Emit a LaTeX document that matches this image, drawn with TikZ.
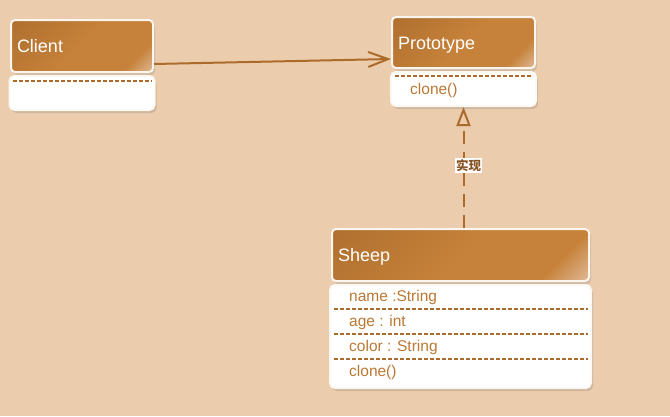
\documentclass[tikz,border=0pt]{standalone}
\usepackage{fontspec}
\setmainfont{Liberation Sans}
\newfontfamily\cjk{Noto Sans CJK SC}
\usepackage{tikz}
\usetikzlibrary{arrows.meta,positioning,shadows}
\definecolor{paper}{HTML}{EBCDAE}
\definecolor{hdrdark}{HTML}{A6672A}
\definecolor{hdrmid}{HTML}{C6823A}
\definecolor{hdrlight}{HTML}{E6C6AC}
\definecolor{ink}{HTML}{BB7834}
\definecolor{wire}{HTML}{AD6B2B}
\pgfdeclarehorizontalshading{header}{100bp}{color(0bp)=(hdrdark); color(50bp)=(hdrmid); color(74bp)=(hdrmid); color(88bp)=(hdrlight); color(100bp)=(hdrlight)}

\begin{document}
\begin{tikzpicture}
	[x=1pt, y=-1pt, inner sep=0pt,
	classname/.style	= {rectangle, rounded corners=4pt, shading=header, shading angle=-45, draw=white!80!paper, line width=2pt, text=white, font=\fontsize{18}{20}\selectfont, align=left, inner xsep=6pt, text height=13pt, text depth=0pt, minimum height=52pt, anchor=north west, drop shadow={shadow xshift=2pt, shadow yshift=-3pt, opacity=0.15, fill=black!70}},
	compart/.style	= {rectangle, rounded corners=5pt, fill=white, draw=white!85!paper, line width=2pt, drop shadow={shadow xshift=2pt, shadow yshift=-3pt, opacity=0.18, fill=black!70}},
	member/.style	= {anchor=base west, text=ink, font=\fontsize{15.5}{18}\selectfont},
	sep/.style	= {wire, line width=1.4pt, dash pattern=on 4pt off 2pt},
	assoc/.style	= {-{Straight Barb[length=20pt, width=15pt]}, wire, line width=2pt},
	realize/.style	= {-{Triangle[open, length=19pt, width=14pt, line width=2pt]}, wire, line width=2pt, dash pattern=on 13pt off 8pt},
	tag/.style	= {fill=white, inner sep=1pt, text=hdrdark!80!black, font=\cjk\bfseries\fontsize{12.5}{14}\selectfont}]

	\fill[paper] (0,0) rectangle (670,416);
	\useasboundingbox (0,0) rectangle (670,416);

	% Client
	\node[classname, text width=130pt] at (10,19) (client) {Client};
	\node[compart, below=2pt of client, minimum width=145pt, minimum height=34pt] (clientbody) {};
	\draw[sep] ([xshift=4pt, yshift=-6pt]clientbody.north west) -- ([xshift=-4pt, yshift=-6pt]clientbody.north east);

	% Prototype
	\node[classname, text width=131pt, minimum height=51pt] at (391,16) (proto) {Prototype};
	\node[compart, below=2pt of proto, minimum width=145pt, minimum height=34pt] (protobody) {};
	\draw[sep] ([xshift=5pt, yshift=-5pt]protobody.north west) -- ([xshift=-4pt, yshift=-5pt]protobody.north east);
	\node[member] at (410,94) (pclone) {clone()};

	% Sheep
	\node[classname, text width=245pt] at (331,228) (sheep) {Sheep};
	\node[compart, below=2pt of sheep, minimum width=261pt, minimum height=103pt] (sheepbody) {};
	\node[member] at (349,301) (sname) {name :String};
	\node[member] at (349,326) (sage) {age : int};
	\node[member] at (349,351) (scolor) {color : String};
	\node[member] at (349,376) (sclone) {clone()};
	\draw[sep] ([xshift=5pt, yshift=-25pt]sheepbody.north west) -- ([xshift=-4pt, yshift=-25pt]sheepbody.north east);
	\draw[sep] ([xshift=5pt, yshift=-50pt]sheepbody.north west) -- ([xshift=-4pt, yshift=-50pt]sheepbody.north east);
	\draw[sep] ([xshift=5pt, yshift=-75pt]sheepbody.north west) -- ([xshift=-4pt, yshift=-75pt]sheepbody.north east);

	% relations
	\draw[assoc] ([yshift=-18pt]client.east) -- ([yshift=-16.5pt]proto.west);
	\draw[realize] (sheep.north -| protobody.south) -- (protobody.south) node[tag, pos=0.5, xshift=5pt, yshift=2pt] (impl) {实现};
\end{tikzpicture}
\end{document}
